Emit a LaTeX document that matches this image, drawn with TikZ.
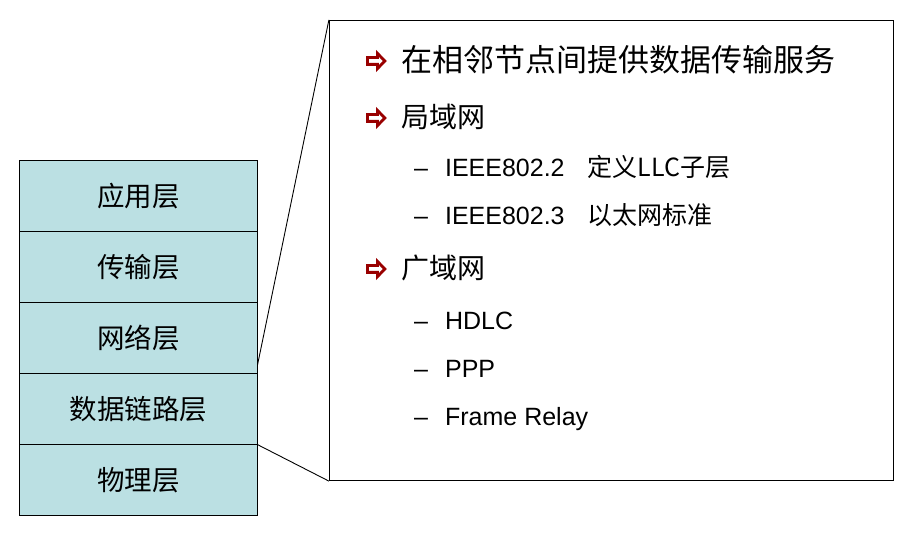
\documentclass[tikz,border=0pt]{standalone}
\usepackage{fontspec}
\setmainfont{Liberation Sans}
\newfontfamily\cjk{Noto Sans CJK SC}
\definecolor{layerfill}{RGB}{187,224,227}
\definecolor{bulletred}{RGB}{153,0,0}
\newcommand{\dashentry}[1]{–\hspace{17pt}#1}
\begin{document}
\begin{tikzpicture}[x=1pt,y=-1pt,
  layer/.style={fill=layerfill, minimum width=238pt,
    minimum height=71pt, inner sep=0pt, font=\cjk\fontsize{27.5}{30}\selectfont},
  layerframe/.style={draw=black, line width=1.2pt},
  panel/.style={draw=black, line width=1.2pt, fill=white, inner sep=0pt},
  itemA/.style={anchor=west, inner sep=0pt, font=\cjk\fontsize{31}{34}\selectfont},
  itemB/.style={anchor=west, inner sep=0pt, font=\cjk\fontsize{28}{31}\selectfont},
  subtext/.style={anchor=base west, inner sep=0pt, font=\fontsize{25}{28}\selectfont},
  zoomline/.style={draw=black, line width=0.9pt},
  bullet/.pic={\draw[bulletred, line width=2.8pt, fill=white, line join=miter]
    (-8.5,-3.4) -- (1.5,-3.4) -- (1.5,-7.6) -- (8.8,0) -- (1.5,7.6) -- (1.5,3.4) -- (-8.5,3.4) -- cycle;}
]
\useasboundingbox (0,0) rectangle (923,545);

% protocol stack
\node[layer] (l1) at (138.5,196) {应用层};
\node[layer] (l2) at (138.5,267) {传输层};
\node[layer] (l3) at (138.5,338) {网络层};
\node[layer] (l4) at (138.5,409) {数据链路层};
\node[layer] (l5) at (138.5,480) {物理层};
\foreach \n in {l1,l2,l3,l4,l5}
  \draw[layerframe] (\n.north west) rectangle (\n.south east);

% detail panel for the data link layer
\node[panel, minimum width=564pt, minimum height=460pt] (box) at (611.5,250.5) {};
\coordinate (ztop) at (257.5,365);
\draw[zoomline] (ztop) -- (box.north west);
\draw[zoomline] (l4.south east) -- (box.south west);

% first-level items
\pic at (376,61) {bullet};
\node[itemA] (t1) at (401,60) {在相邻节点间提供数据传输服务};
\pic at (376,118) {bullet};
\node[itemB] (t2) at (401,117) {局域网};
\pic at (376,269) {bullet};
\node[itemB] (t3) at (401,268) {广域网};

% second-level items
\node[subtext] (s1) at (414,177) {\dashentry{IEEE802.2\hspace{23pt}{\cjk\fontsize{25}{28}\selectfont 定义LLC子层}}};
\node[subtext] (s2) at (414,225) {\dashentry{IEEE802.3\hspace{23pt}{\cjk\fontsize{25}{28}\selectfont 以太网标准}}};
\node[subtext] (s3) at (414,329) {\dashentry{HDLC}};
\node[subtext] (s4) at (414,377) {\dashentry{PPP}};
\node[subtext] (s5) at (414,425) {\dashentry{Frame Relay}};
\end{tikzpicture}
\end{document}
